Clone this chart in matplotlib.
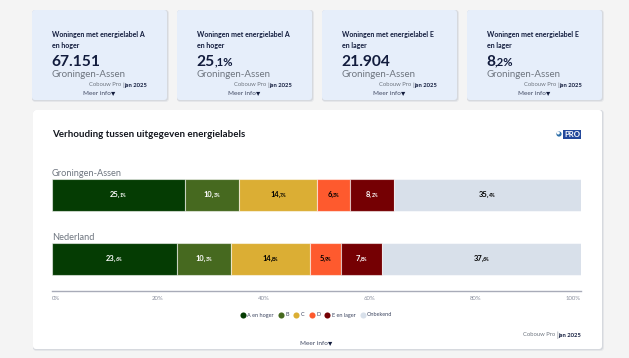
import matplotlib
matplotlib.use('Agg')
import matplotlib.pyplot as plt
from matplotlib.lines import Line2D
from matplotlib.patches import FancyBboxPatch, Rectangle, Circle

plt.rcParams['font.family'] = ['Lato', 'DejaVu Sans']

W, H = 629, 358
NAVY = '#121c3d'
GREY = '#6f7680'

# --- Data ---
regions = ['Groningen-Assen', 'Nederland']
categories = ['A en hoger', 'B', 'C', 'D', 'E en lager', 'Onbekend']
colors = ['#053c03', '#46691f', '#dbae34', '#fe5a2e', '#750003', '#d8e0ea']
label_colors = ['white', 'white', 'black', 'black', 'white', 'black']
groningen = [25.1, 10.3, 14.7, 6.3, 8.2, 35.4]
nederland = [23.6, 10.3, 14.8, 5.9, 7.8, 37.6]
ticks = [0, 20, 40, 60, 80, 100]

card_titles = [['Woningen met energielabel A', 'en hoger'],
               ['Woningen met energielabel A', 'en hoger'],
               ['Woningen met energielabel E', 'en lager'],
               ['Woningen met energielabel E', 'en lager']]
card_values = [('67.151', ''), ('25', ',1%'), ('21.904', ''), ('8', ',2%')]
card_left = [32, 177, 322, 467]

fig = plt.figure(figsize=(W / 100, H / 100), dpi=100, facecolor='#f4f4f4')
bg = fig.add_axes([0, 0, 1, 1])
bg.set_xlim(0, W)
bg.set_ylim(H, 0)
bg.axis('off')
renderer = fig.canvas.get_renderer()


def panel(x0, y0, x1, y1, color):
    # soft shadow, then the panel itself
    for off, alpha in [(2.0, 0.07), (1.2, 0.13)]:
        bg.add_patch(FancyBboxPatch((x0 + 3, y0 + 3), x1 - x0 - 6 + off, y1 - y0 - 6 + off,
                                    boxstyle='round,pad=3', fc='#5a6a85', ec='none', alpha=alpha))
    bg.add_patch(FancyBboxPatch((x0 + 3, y0 + 3), x1 - x0 - 6, y1 - y0 - 6,
                                boxstyle='round,pad=3', fc=color, ec='none'))


def split_text(ax, x, y, big, small, big_size, small_size, color, center=False):
    # number with a smaller decimal part, sharing one baseline; offsets are in points
    t = ax.annotate(big, (x, y), xytext=(0, 0), textcoords='offset points', fontsize=big_size,
                    fontweight='bold', color=color, va='baseline', ha='left', annotation_clip=False)
    big_w = t.get_window_extent(renderer).width * 0.72 - 0.5
    s = ax.annotate(small, (x, y), xytext=(big_w, 0), textcoords='offset points', fontsize=small_size,
                    fontweight='bold', color=color, va='baseline', ha='left', annotation_clip=False)
    if center:
        small_w = s.get_window_extent(renderer).width * 0.72
        shift = (big_w + small_w) / 2
        t.set_position((-shift, 0))
        s.set_position((big_w - shift, 0))


def meer_info(x, y, size):
    t = bg.text(x, y, 'Meer info', fontsize=size, color='#3d4660', va='center', ha='left')
    width = t.get_window_extent(renderer).width
    bg.text(x + width + 0.5, y - 1.2, '\u25be', fontsize=size + 1.5, color=NAVY, va='center', ha='left',
            family='DejaVu Sans')


# --- KPI cards ---
for left, title, (big, small) in zip(card_left, card_titles, card_values):
    panel(left, 10, left + 135, 100, '#e6eefa')
    bg.text(left + 20, 34.5, title[0], fontsize=5.0, fontweight='bold', color=NAVY, va='center')
    bg.text(left + 20, 45.5, title[1], fontsize=5.0, fontweight='bold', color=NAVY, va='center')
    split_text(bg, left + 19.5, 65.5, big, small, 11.2, 8.2, NAVY)
    bg.text(left + 19.5, 74.5, 'Groningen-Assen', fontsize=7.0, color=GREY, va='center')
    bg.text(left + 89, 85, 'Cobouw Pro', fontsize=4.2, color=GREY, va='center', ha='right')
    bg.text(left + 90, 85, '|', fontsize=4.6, color=GREY, va='center', ha='left')
    bg.text(left + 92, 85, 'jan 2025', fontsize=4.2, fontweight='bold', color=NAVY, va='center', ha='left')
    meer_info(left + 51, 93.5, 4.6)

# --- Main panel ---
panel(33, 110, 602, 349, 'white')
bg.text(52, 134.5, 'Verhouding tussen uitgegeven energielabels', fontsize=7.0,
        fontweight='bold', color='#14171f', va='center')

# PRO logo
bg.add_patch(Circle((559, 134), 2.6, fc='#2b6ea8', ec='none'))
bg.add_patch(Circle((558.3, 133), 1.5, fc='white', ec='none'))
bg.add_patch(Rectangle((563, 130), 18, 8.5, fc='#23489b', ec='none'))
bg.text(572, 134.3, 'PRO', fontsize=5.6, fontweight='bold', color='white', va='center', ha='center')

# --- Stacked bars ---
ax_x0, ax_x1, ax_top, ax_bottom = 52, 581, 165, 291
ax = fig.add_axes([ax_x0 / W, 1 - ax_bottom / H, (ax_x1 - ax_x0) / W, (ax_bottom - ax_top) / H])
ax.set_xlim(0, 100)
ax.set_ylim(ax_bottom, ax_top)
ax.patch.set_alpha(0)

bar_centers = [195.3, 259]
for center, region, values in zip(bar_centers, regions, [groningen, nederland]):
    start = 0
    for value, color, lab_color in zip(values, colors, label_colors):
        ax.barh(center, value, left=start, height=32, color=color,
                edgecolor=(1, 1, 1, 0.55), linewidth=0.8)
        whole, dec = f'{value:.1f}'.split('.')
        split_text(ax, start + value / 2, center + 1.8, whole + ',', dec + '%', 5.4, 3.4,
                   lab_color, center=True)
        start += value
    ax.text(0, center - 22, region, fontsize=6.7, color=GREY, va='center', ha='left')

for side in ['top', 'left', 'right']:
    ax.spines[side].set_visible(False)
ax.spines['bottom'].set_color('#a8abb8')
ax.spines['bottom'].set_linewidth(1.0)
ax.set_yticks([])
ax.set_xticks(ticks)
ax.set_xticklabels([f'{t}%' for t in ticks], fontsize=4.3, color='#8a8f9e')
ax.tick_params(axis='x', length=0, pad=3.8)
ax.get_xticklabels()[0].set_ha('left')
ax.get_xticklabels()[-1].set_ha('right')

# --- Legend ---
handles = [Line2D([], [], ls='none', marker='o', ms=4.4, mfc=c, mec='none') for c in colors]
fig.legend(handles, categories, loc='center', bbox_to_anchor=(315.5 / W, 1 - 315 / H), ncol=6,
           frameon=False, fontsize=4.0, labelcolor='#3d4660', handletextpad=0.0,
           columnspacing=0.5, handlelength=1.6, borderpad=0)

# --- Footer ---
bg.text(555, 335, 'Cobouw Pro', fontsize=4.2, color=GREY, va='center', ha='right')
bg.text(556, 335, '|', fontsize=4.8, color=GREY, va='center', ha='left')
bg.text(581, 335, 'jan 2025', fontsize=4.2, fontweight='bold', color=NAVY, va='center', ha='right')
meer_info(300, 343.5, 4.6)

fig.savefig('out.png', dpi=100, facecolor=fig.get_facecolor())
plt.close(fig)
